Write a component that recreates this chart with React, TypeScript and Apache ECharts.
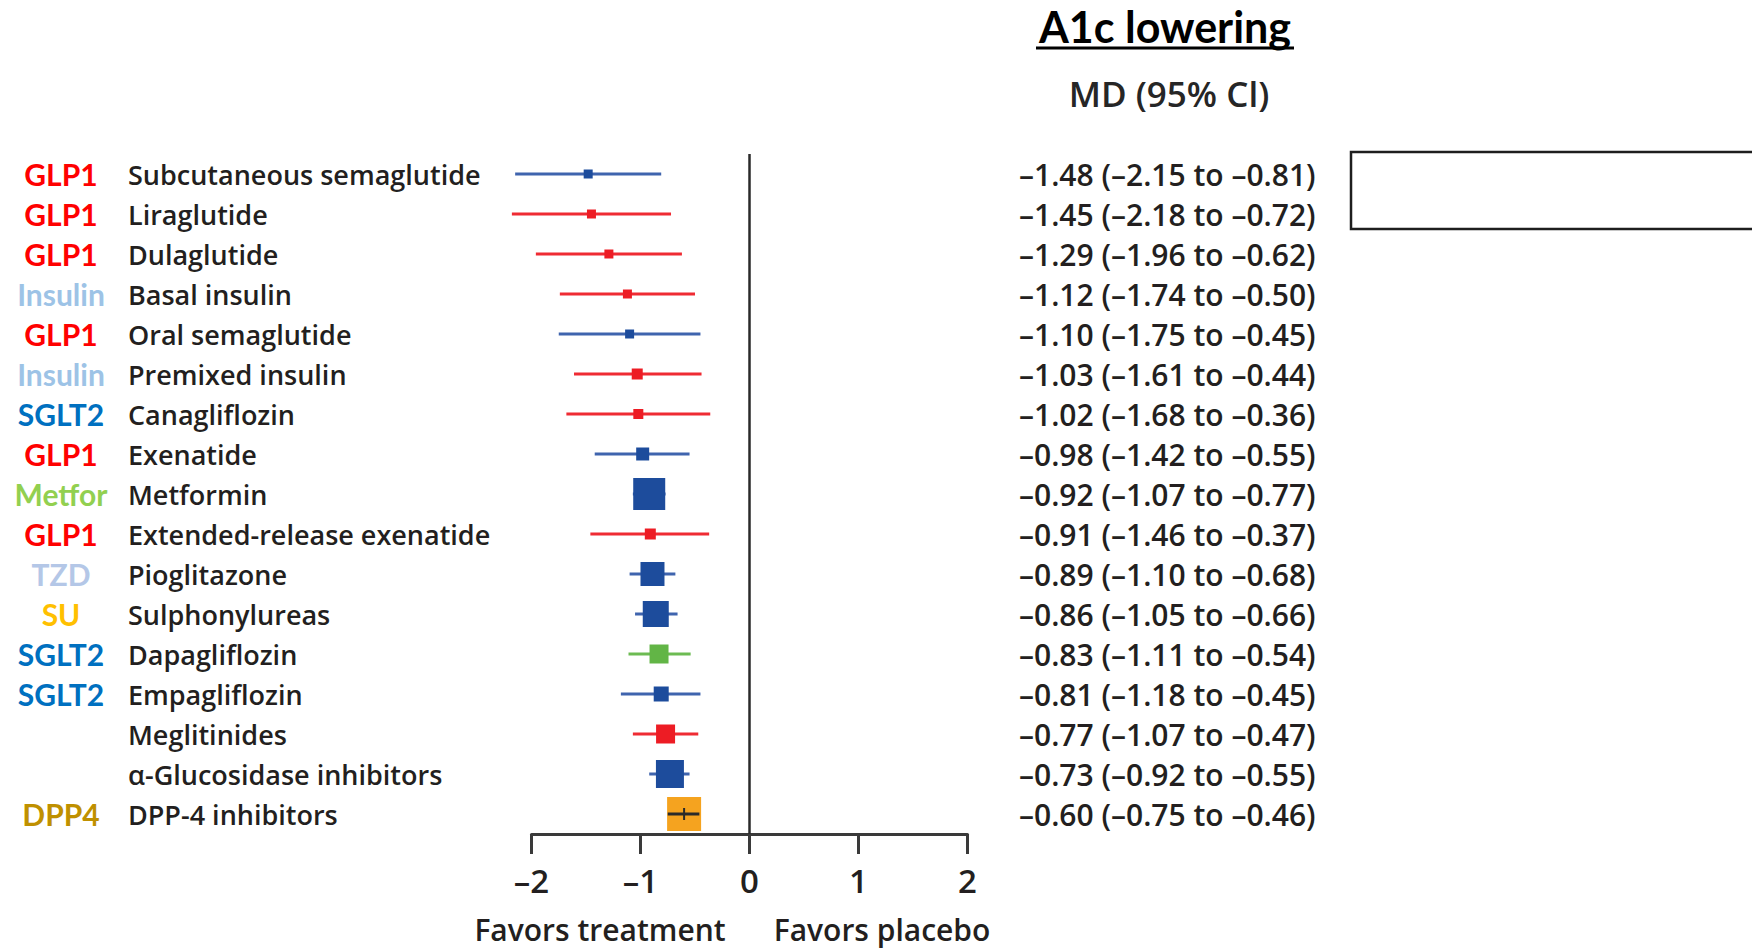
import React, { useEffect, useRef } from "react";
import * as echarts from "echarts";

const drugs = [
  "Subcutaneous semaglutide",
  "Liraglutide",
  "Dulaglutide",
  "Basal insulin",
  "Oral semaglutide",
  "Premixed insulin",
  "Canagliflozin",
  "Exenatide",
  "Metformin",
  "Extended-release exenatide",
  "Pioglitazone",
  "Sulphonylureas",
  "Dapagliflozin",
  "Empagliflozin",
  "Meglitinides",
  "α-Glucosidase inhibitors",
  "DPP-4 inhibitors",
];
const drugClasses = [
  "GLP1", "GLP1", "GLP1", "Insulin", "GLP1", "Insulin", "SGLT2", "GLP1", "Metfor",
  "GLP1", "TZD", "SU", "SGLT2", "SGLT2", "", "", "DPP4",
];
const md = [-1.48, -1.45, -1.29, -1.12, -1.1, -1.03, -1.02, -0.98, -0.92, -0.91, -0.89, -0.86, -0.83, -0.81, -0.77, -0.73, -0.6];
const lo = [-2.15, -2.18, -1.96, -1.74, -1.75, -1.61, -1.68, -1.42, -1.07, -1.46, -1.1, -1.05, -1.11, -1.18, -1.07, -0.92, -0.75];
const hi = [-0.81, -0.72, -0.62, -0.5, -0.45, -0.44, -0.36, -0.55, -0.77, -0.37, -0.68, -0.66, -0.54, -0.45, -0.47, -0.55, -0.46];
// relative weight of each estimate (drives the box size)
const weights = [9, 9, 9, 9, 9, 11, 10, 13, 32, 11, 24, 26, 19, 15, 19, 28, 34];
const markerGroup = [
  "blue", "red", "red", "red", "blue", "red", "red", "blue", "blue",
  "red", "blue", "blue", "green", "blue", "red", "blue", "orange",
];
const xTicks = [-2, -1, 0, 1, 2];

const classColors: Record<string, string> = {
  GLP1: "#FF0000",
  Insulin: "#9DC3E6",
  SGLT2: "#0070C0",
  Metfor: "#92D050",
  TZD: "#B4C7E7",
  SU: "#FFC000",
  DPP4: "#BF9000",
};
const boxColors: Record<string, string> = {
  blue: "#1D4C9C",
  red: "#ED1C24",
  green: "#62B546",
  orange: "#F5A31F",
};
const lineColors: Record<string, string> = {
  blue: "#3F64AE",
  red: "#EF2B33",
  green: "#6CBB52",
  orange: "#2A2A2A",
};

const DASH = "\u2013";
const fmt = (v: number) => (v < 0 ? DASH + Math.abs(v).toFixed(2) : v.toFixed(2));
const mdLabels = md.map((m, i) => `${fmt(m)} (${fmt(lo[i])} to ${fmt(hi[i])})`);

const TEXT = "#231F20";
const SANS = "'Open Sans', 'Noto Sans', sans-serif";
const CAL = "Lato, 'Open Sans', sans-serif";

const classKeys = Object.keys(classColors);

export default function App() {
  const ref = useRef<HTMLDivElement>(null);
  useEffect(() => {
    if (!ref.current) return;
    const chart = echarts.init(ref.current, undefined, { renderer: "svg" });

    const rich: Record<string, any> = {
      nm: {
        fontFamily: SANS,
        fontWeight: 600,
        fontSize: 27,
        color: TEXT,
        padding: [0, 0, 0, 6],
      },
      c_none: { width: 122, align: "center", fontSize: 30 },
    };
    classKeys.forEach((k) => {
      rich["c_" + k] = {
        width: 122,
        align: "center",
        fontFamily: CAL,
        fontWeight: 700,
        fontSize: 30,
        color: classColors[k],
      };
    });

    const seriesData = md.map((m, i) => [i, m, lo[i], hi[i], weights[i]]);

    const option: any = {
      animation: false,
      backgroundColor: "#ffffff",
      grid: { left: 531.5, right: 784.5, top: 154, bottom: 117, containLabel: false },
      xAxis: {
        type: "value",
        min: -2,
        max: 2,
        interval: 1,
        splitLine: { show: false },
        axisLine: { show: true, lineStyle: { color: "#3A3A3A", width: 3 } },
        axisTick: { show: true, inside: false, length: 20, lineStyle: { color: "#3A3A3A", width: 3 } },
        axisLabel: {
          margin: 30,
          fontFamily: SANS,
          fontWeight: 600,
          fontSize: 33,
          color: TEXT,
          customValues: xTicks,
          formatter: (v: number) => (v < 0 ? DASH + Math.abs(v) : String(v)),
        },
      },
      yAxis: [
        {
          type: "category",
          data: drugs,
          inverse: true,
          axisLine: { show: false },
          axisTick: { show: false },
          splitLine: { show: false },
          axisLabel: {
            align: "left",
            margin: 531.5,
            formatter: (_v: string, idx: number) => {
              const c = drugClasses[idx];
              const key = c ? "c_" + c : "c_none";
              return `{${key}|${c || " "}}{nm|${drugs[idx]}}`;
            },
            rich,
          },
        },
        {
          type: "category",
          data: mdLabels,
          inverse: true,
          position: "right",
          axisLine: { show: false },
          axisTick: { show: false },
          splitLine: { show: false },
          axisLabel: {
            align: "left",
            margin: 51.5,
            fontFamily: SANS,
            fontWeight: 600,
            fontSize: 30,
            color: TEXT,
          },
        },
      ],
      series: [
        {
          type: "custom",
          xAxisIndex: 0,
          yAxisIndex: 0,
          encode: { x: [1, 2, 3], y: 0 },
          data: seriesData,
          renderItem: (_params: any, api: any) => {
            const i = api.value(0);
            const pm = api.coord([api.value(1), i]);
            const pl = api.coord([api.value(2), i]);
            const ph = api.coord([api.value(3), i]);
            const s = api.value(4);
            const g = markerGroup[i];
            const line = {
              type: "line",
              shape: { x1: pl[0], y1: pl[1], x2: ph[0], y2: ph[1] },
              style: { stroke: lineColors[g], lineWidth: 3 },
            };
            const box = {
              type: "rect",
              shape: { x: pm[0] - s / 2, y: pm[1] - s / 2, width: s, height: s },
              style: { fill: boxColors[g] },
            };
            if (g === "orange") {
              const tick = {
                type: "line",
                shape: { x1: pm[0], y1: pm[1] - 6, x2: pm[0], y2: pm[1] + 6 },
                style: { stroke: lineColors[g], lineWidth: 2 },
              };
              return { type: "group", children: [box, line, tick] };
            }
            return { type: "group", children: [line, box] };
          },
          markLine: {
            silent: true,
            symbol: ["none", "none"],
            label: { show: false },
            lineStyle: { color: "#2A2A2A", width: 2.5, type: "solid" },
            data: [{ xAxis: 0 }],
          },
          z: 3,
        },
      ],
      graphic: [
        {
          type: "text",
          x: 1165,
          y: 26,
          style: {
            text: "A1c lowering",
            fontFamily: CAL,
            fontWeight: 700,
            fontSize: 43,
            fill: "#000000",
            align: "center",
            verticalAlign: "middle",
          },
        },
        {
          type: "line",
          shape: { x1: 1036, y1: 48, x2: 1294, y2: 48 },
          style: { stroke: "#000000", lineWidth: 3 },
        },
        {
          type: "text",
          x: 1169,
          y: 93,
          style: {
            text: "MD (95% Cl)",
            fontFamily: SANS,
            fontWeight: 600,
            fontSize: 35,
            fill: "#262626",
            align: "center",
            verticalAlign: "middle",
          },
        },
        {
          type: "rect",
          shape: { x: 1351, y: 152, width: 420, height: 77 },
          style: { fill: "none", stroke: "#1E1E1E", lineWidth: 2.5 },
        },
        {
          type: "text",
          x: 600,
          y: 929,
          style: {
            text: "Favors treatment",
            fontFamily: SANS,
            fontWeight: 600,
            fontSize: 30,
            fill: TEXT,
            align: "center",
            verticalAlign: "middle",
          },
        },
        {
          type: "text",
          x: 882,
          y: 929,
          style: {
            text: "Favors placebo",
            fontFamily: SANS,
            fontWeight: 600,
            fontSize: 30,
            fill: TEXT,
            align: "center",
            verticalAlign: "middle",
          },
        },
      ],
    };
    chart.setOption(option);
    return () => chart.dispose();
  }, []);
  return (
    <div
      ref={ref}
      style={{ position: "fixed", left: 0, top: 0, width: 1752, height: 951, background: "#fff" }}
    />
  );
}
